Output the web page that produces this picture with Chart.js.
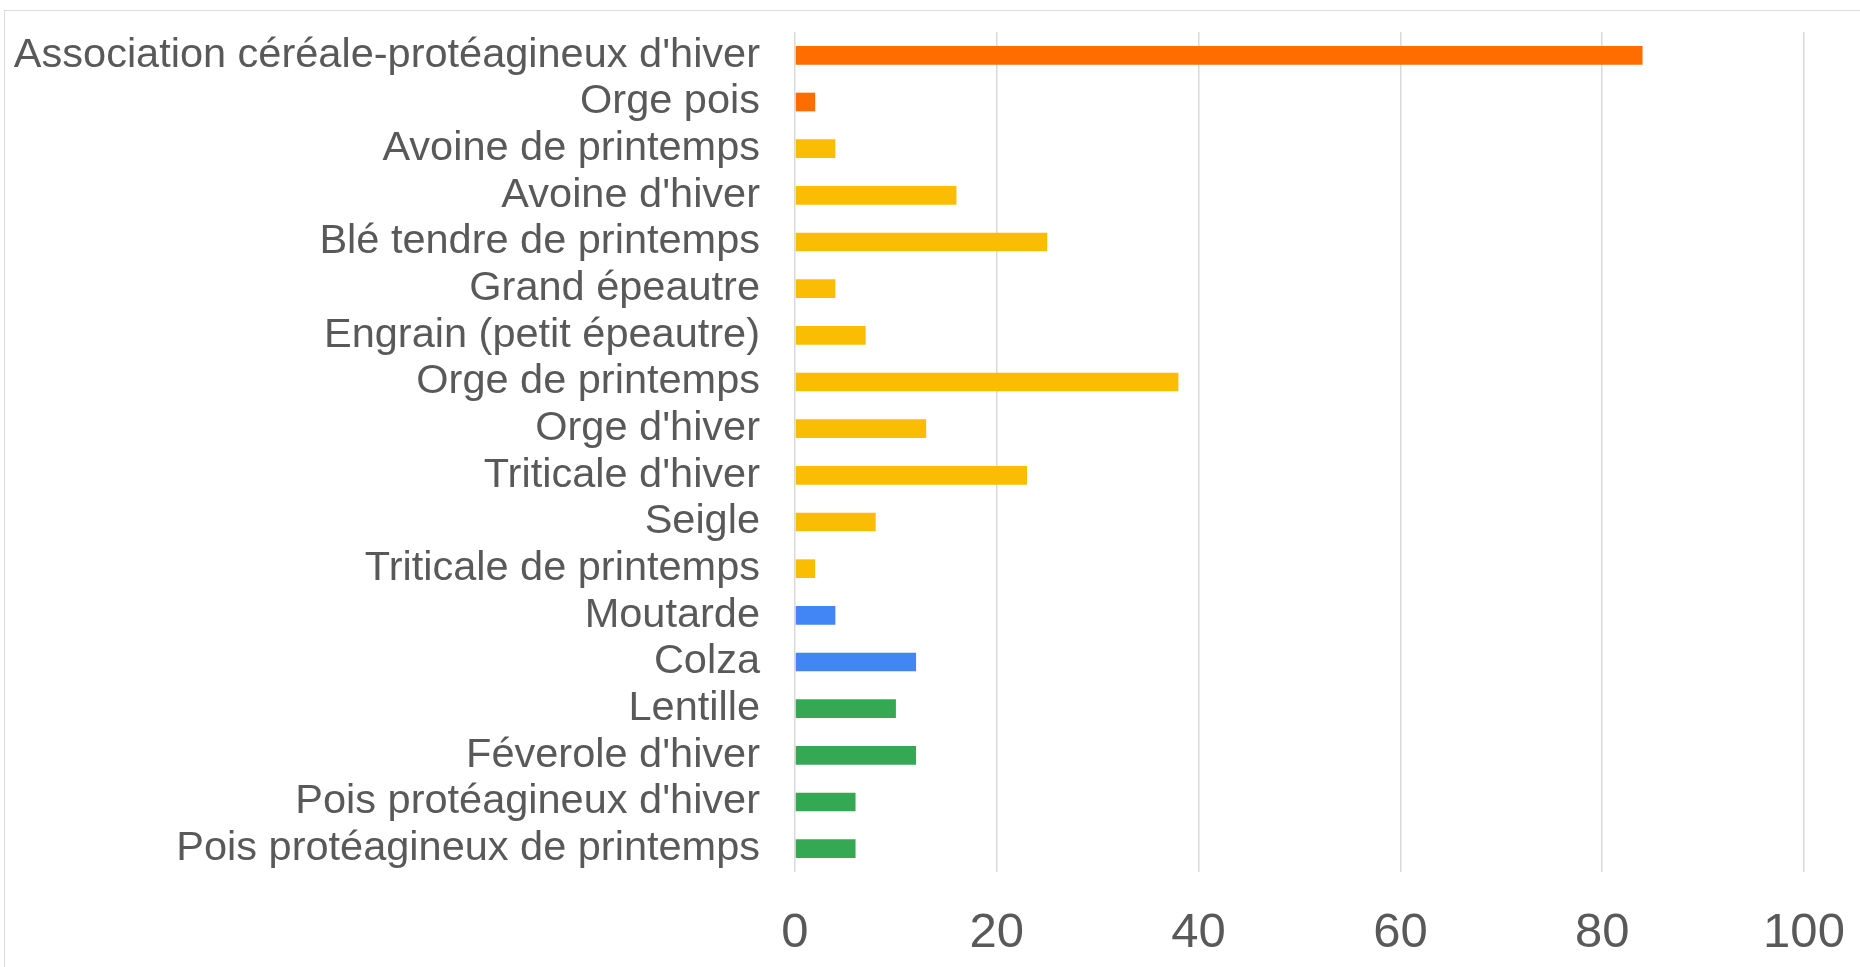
<!DOCTYPE html>
<html>
<head>
<meta charset="utf-8">
<script src="https://cdn.jsdelivr.net/npm/chart.js@4.4.1/dist/chart.umd.min.js"></script>
<style>
  html, body { margin: 0; padding: 0; background: #fff; overflow: hidden; }
  #frame { position: absolute; left: 4px; top: 10px; width: 1900px; height: 1000px; border: 1px solid #dcdcdc; }
  #wrap { position: absolute; left: 0; top: 0; width: 1860px; height: 967px; }
</style>
</head>
<body>
<div id="frame"></div>
<div id="wrap"><canvas id="myChart"></canvas></div>
<script>
var crops = [
  "Association céréale-protéagineux d'hiver",
  "Orge pois",
  "Avoine de printemps",
  "Avoine d'hiver",
  "Blé tendre de printemps",
  "Grand épeautre",
  "Engrain (petit épeautre)",
  "Orge de printemps",
  "Orge d'hiver",
  "Triticale d'hiver",
  "Seigle",
  "Triticale de printemps",
  "Moutarde",
  "Colza",
  "Lentille",
  "Féverole d'hiver",
  "Pois protéagineux d'hiver",
  "Pois protéagineux de printemps"
];
var counts = [84, 2, 4, 16, 25, 4, 7, 38, 13, 23, 8, 2, 4, 12, 10, 12, 6, 6];
// group of each crop: mixture, cereal, oilseed, legume
var groups = ["mix", "mix", "cereal", "cereal", "cereal", "cereal", "cereal", "cereal", "cereal",
  "cereal", "cereal", "cereal", "oil", "oil", "legume", "legume", "legume", "legume"];
var groupColors = { mix: "#ff6d01", cereal: "#fbbc04", oil: "#4285f4", legume: "#34a853" };
var xTicks = [0, 20, 40, 60, 80, 100];

var ctx = document.getElementById('myChart').getContext('2d');
var myChart = new Chart(ctx, {
  type: 'bar',
  data: {
    labels: crops,
    datasets: [{
      data: counts,
      backgroundColor: groups.map(function (g) { return groupColors[g]; }),
      borderWidth: 0,
      barPercentage: 0.4,
      categoryPercentage: 1
    }]
  },
  options: {
    indexAxis: 'y',
    responsive: true,
    maintainAspectRatio: false,
    animation: false,
    layout: { padding: { left: 0, right: 56, top: 32, bottom: 0 } },
    plugins: { legend: { display: false }, tooltip: { enabled: false } },
    scales: {
      x: {
        min: xTicks[0],
        max: xTicks[xTicks.length - 1],
        afterBuildTicks: function (axis) {
          axis.ticks = xTicks.map(function (v) { return { value: v }; });
        },
        afterFit: function (axis) {
          axis.height = 95;
          axis.paddingLeft = 0;
          axis.paddingRight = 0;
        },
        grid: { color: '#d9d9d9', lineWidth: 1.5, drawTicks: false },
        border: { display: false },
        ticks: { color: '#595959', padding: 32, font: { family: 'Liberation Sans', size: 49 } }
      },
      y: {
        afterFit: function (axis) {
          axis.width = 795;
          axis.paddingTop = 0;
          axis.paddingBottom = 0;
        },
        grid: { display: false },
        border: { display: false },
        ticks: { color: '#595959', padding: 27, autoSkip: false, font: { family: 'Liberation Sans', size: 41.5 } }
      }
    }
  }
});
</script>
</body>
</html>
